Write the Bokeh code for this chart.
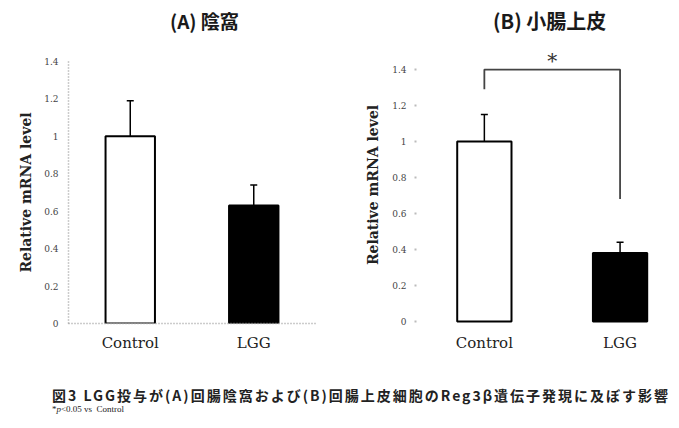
from bokeh.plotting import figure
from bokeh.models import Range1d, FixedTicker, Whisker, TeeHead, ColumnDataSource, Div
from bokeh.layouts import row, column
from bokeh.core.properties import value
from bokeh.embed import file_html
from bokeh.resources import INLINE

# ---- data ----
categories = ["Control", "LGG"]
crypt_values = [1.0, 0.63]
crypt_errors = [0.19, 0.11]
epi_values = [1.0, 0.38]
epi_errors = [0.15, 0.06]
bar_colors = ["white", "black"]
y_ticks = [0, 0.2, 0.4, 0.6, 0.8, 1.0, 1.2, 1.4]
y_tick_labels = ["0", "0.2", "0.4", "0.6", "0.8", "1", "1.2", "1.4"]
bracket_ends = [1.29, 0.68]
bracket_top = 1.4
significance = "*"
title_a = "(A) 陰窩"
title_b = "(B) 小腸上皮"
y_label = "Relative mRNA level"
caption_line1 = "図3 LGG投与が(A)回腸陰窩および(B)回腸上皮細胞のReg3β遺伝子発現に及ぼす影響"
caption_line2 = "*<i>p</i>&lt;0.05 vs&nbsp; Control"

SERIF = "DejaVu Serif"
CJK = "Noto Sans CJK JP"

xs = [i + 0.5 for i in range(len(categories))]


def make_panel(vals, errs, x_end, y_start, y_end, w, h, mb_left, mb_right, mb_top):
    p = figure(width=w, height=h,
               x_range=Range1d(0, x_end), y_range=Range1d(y_start, y_end),
               output_backend="svg", toolbar_location=None,
               min_border_left=mb_left, min_border_right=mb_right,
               min_border_top=mb_top, min_border_bottom=38)
    p.title.visible = False
    p.outline_line_color = None
    p.xgrid.visible = False
    p.ygrid.visible = False
    p.background_fill_color = "white"
    p.border_fill_color = "white"
    src = ColumnDataSource(dict(x=xs, top=vals, upper=[v + e for v, e in zip(vals, errs)],
                                color=bar_colors, name=categories))
    p.vbar(x="x", top="top", bottom=0, width=0.4, fill_color="color",
           line_color="black", line_width=2, source=src)
    p.add_layout(Whisker(source=src, base="x", lower="top", upper="upper",
                         line_color="black", line_width=1.5,
                         upper_head=TeeHead(size=7, line_color="black", line_width=1.5),
                         lower_head=None))
    # axes
    p.xaxis.ticker = FixedTicker(ticks=xs)
    p.xaxis.major_label_overrides = dict(zip(xs, categories))
    p.xaxis.major_label_text_font = SERIF
    p.xaxis.major_label_text_font_size = "15px"
    p.xaxis.major_label_text_color = "#222222"
    p.xaxis.major_tick_line_color = None
    p.xaxis.minor_tick_line_color = None
    p.xaxis.major_label_standoff = 4
    p.yaxis.ticker = FixedTicker(ticks=y_ticks)
    p.yaxis.bounds = (0, 1.4)
    p.yaxis.major_label_overrides = dict(zip(y_ticks, y_tick_labels))
    p.yaxis.major_label_text_font = SERIF
    p.yaxis.major_label_text_font_size = "9px"
    p.yaxis.major_label_text_color = "#444444"
    p.yaxis.minor_tick_line_color = None
    p.yaxis.axis_label = y_label
    p.yaxis.axis_label_text_font = SERIF
    p.yaxis.axis_label_text_font_size = "14px"
    p.yaxis.axis_label_text_font_style = "bold"
    p.yaxis.axis_label_text_color = "#222222"
    return p


# Panel A
pA = make_panel(crypt_values, crypt_errors, 2.0, 0, 1.4, 346, 320, 68, 31, 20)
for ax in (pA.xaxis[0], pA.yaxis[0]):
    ax.axis_line_color = "#999999"
    ax.axis_line_dash = "1 2"
    ax.axis_line_width = 1.5
pA.yaxis.major_tick_line_color = None
pA.yaxis.major_label_standoff = 4
pA.yaxis.axis_label_standoff = 7

# Panel B
pB = make_panel(epi_values, epi_errors, 1.82, -0.0111, 1.528, 323, 320, 70, 6, 5)
pB.xaxis.axis_line_color = None
pB.yaxis.axis_line_color = None
pB.yaxis.major_tick_out = 2
pB.yaxis.major_tick_in = 0
pB.yaxis.major_tick_line_color = "#bbbbbb"
pB.yaxis.major_tick_line_width = 2
pB.yaxis.major_label_standoff = 8
pB.yaxis.axis_label_standoff = 8
pB.line(x=[xs[0], xs[0], xs[1], xs[1]],
        y=[bracket_ends[0], bracket_top, bracket_top, bracket_ends[1]],
        line_color="#444444", line_width=1.8)
pB.text(x=[sum(xs) / 2], y=[bracket_top + 0.05], text=[significance],
        text_font=value(SERIF), text_font_size="20px", text_align="center",
        text_baseline="alphabetic", text_color="#333333")

title_style = (f"position:absolute;top:4px;line-height:24px;font-family:'{CJK}';"
               "font-weight:bold;color:#1a1a1a;white-space:nowrap;")
titles = Div(width=663, height=31, text=(
    '<div style="position:relative;width:663px;height:31px;margin:0;padding:0;">'
    f'<span style="{title_style}left:165px;font-size:19px;">{title_a}</span>'
    f'<span style="{title_style}left:488px;font-size:20px;">{title_b}</span>'
    '</div>'))

caption = Div(width=663, height=52, text=(
    f'<div style="padding:21px 0 0 47px;font-family:\'{CJK}\';color:#222;">'
    f'<div style="font-size:14px;font-weight:bold;letter-spacing:2px;line-height:16px;white-space:nowrap;">{caption_line1}</div>'
    f'<div style="font-size:9px;line-height:12px;white-space:nowrap;font-family:\'Liberation Serif\';">{caption_line2}</div>'
    '</div>'))

layout = column(titles, row(pA, column(pB)), caption)
open("out.html", "w").write(file_html(layout, INLINE))
